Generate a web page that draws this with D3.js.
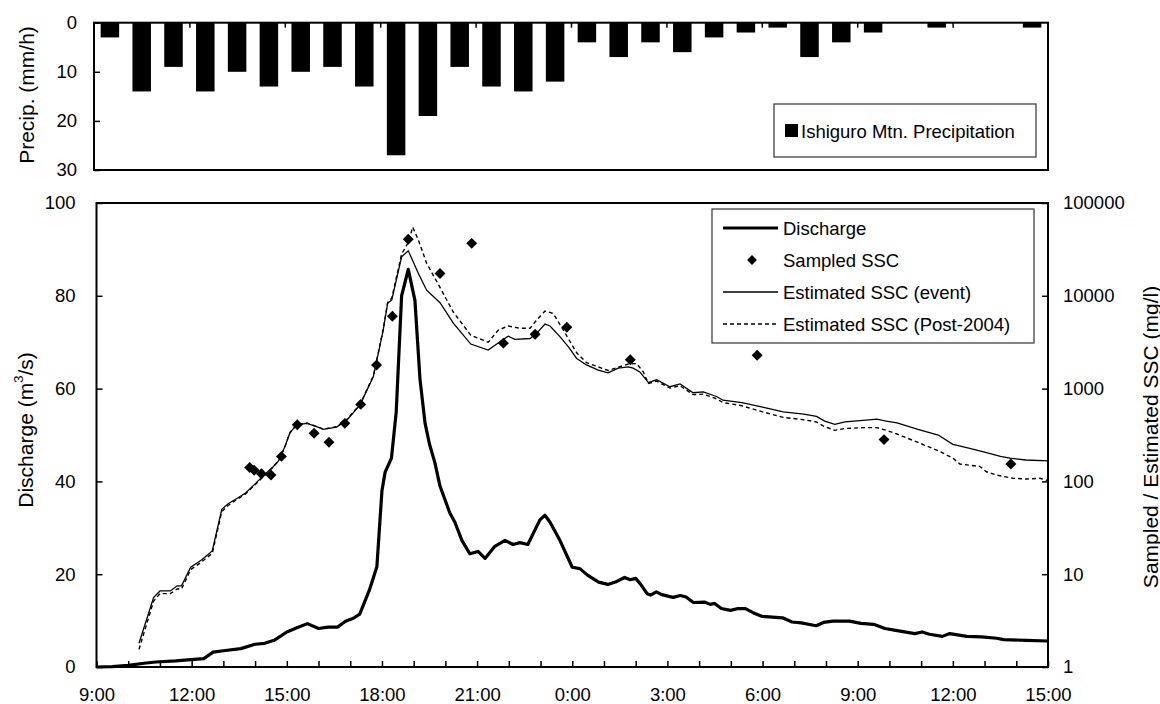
<!DOCTYPE html>
<html>
<head>
<meta charset="utf-8">
<script src="https://cdn.jsdelivr.net/npm/d3@7"></script>
<style>
  body { margin: 0; background: #fff; }
  svg text { font-family: "Liberation Sans", Arial, sans-serif; fill: #000; }
</style>
</head>
<body>
<div id="chart"></div>
<script>
// hours after 9:00 on day 1
const hourLabels = ["9:00", "12:00", "15:00", "18:00", "21:00", "0:00", "3:00", "6:00", "9:00", "12:00", "15:00"];

// hourly precipitation (mm/h), one bar per hour from 9:00
const precip = [3, 14, 9, 14, 10, 13, 10, 9, 13, 27, 19, 9, 13, 14, 12, 4, 7, 4, 6, 3, 2, 1, 7, 4, 2, 0, 1, 0, 0, 1];

// [hours after 9:00, m3/s]
const discharge = [[0,0],[0.5,0.1],[1,0.36],[1.5,0.8],[1.87,1.08],[2.5,1.3],[2.98,1.6],[3.38,1.8],[3.68,3.2],[4.0,3.5],[4.55,3.96],[5.0,4.9],[5.3,5.1],[5.6,5.75],[6.0,7.55],[6.3,8.4],[6.65,9.35],[7.0,8.3],[7.3,8.6],[7.6,8.6],[7.85,9.85],[8.1,10.5],[8.3,11.4],[8.6,16.5],[8.84,21.6],[9.0,38],[9.1,42],[9.3,45],[9.45,55],[9.62,80],[9.83,85.7],[10.04,79],[10.2,62],[10.36,52.5],[10.5,48],[10.67,44],[10.83,39],[11.14,33.2],[11.3,31.2],[11.52,27.3],[11.77,24.4],[12.03,24.9],[12.25,23.4],[12.56,26],[12.88,27.3],[13.13,26.4],[13.35,26.8],[13.6,26.4],[13.98,31.7],[14.14,32.7],[14.3,31.2],[14.61,27.3],[15.0,21.5],[15.24,21.2],[15.48,19.8],[15.83,18.3],[16.12,17.8],[16.36,18.3],[16.65,19.3],[16.83,18.8],[17.0,19.1],[17.18,17.6],[17.36,15.8],[17.47,15.5],[17.65,16.2],[17.82,15.6],[18.18,15.0],[18.41,15.4],[18.59,15.1],[18.82,13.9],[19.17,14.0],[19.35,13.5],[19.49,13.7],[19.7,12.6],[19.99,12.2],[20.23,12.6],[20.46,12.6],[20.7,11.7],[20.99,10.9],[21.63,10.6],[21.93,9.7],[22.22,9.5],[22.69,8.9],[22.92,9.6],[23.22,9.9],[23.74,9.9],[24.1,9.4],[24.5,9.2],[24.86,8.3],[25.2,7.9],[25.8,7.2],[26.03,7.55],[26.26,7.05],[26.67,6.6],[26.9,7.2],[27.44,6.6],[27.9,6.5],[28.38,6.2],[28.6,5.9],[29.3,5.75],[30,5.6]];

// [hours after 9:00, mg/l]
const sscEvent = [[1.34,1.8],[1.8,5.6],[2.0,6.6],[2.33,6.6],[2.54,7.5],[2.68,7.5],[2.97,11.9],[3.32,14.3],[3.65,17.8],[3.95,50],[4.15,57.5],[4.4,64.6],[4.7,75],[5.0,94],[5.3,119],[5.55,141],[5.75,168],[5.94,237],[6.1,335],[6.31,407],[6.63,422],[6.94,389],[7.15,363],[7.57,385],[7.89,457],[8.31,668],[8.73,1349],[9.04,4266],[9.18,8318],[9.31,9016],[9.62,26303],[9.83,30549],[10.15,17378],[10.41,11482],[10.83,8414],[11.25,5070],[11.8,3020],[12.35,2600],[12.72,3199],[12.98,3673],[13.19,3388],[13.67,3467],[13.88,3936],[14.14,4955],[14.3,4732],[14.61,3631],[14.88,2818],[15.14,2113],[15.45,1799],[15.82,1585],[16.13,1479],[16.45,1660],[16.77,1718],[16.92,1660],[17.13,1514],[17.4,1161],[17.66,1245],[18.08,1047],[18.4,1122],[18.81,902],[19.13,923],[19.55,822],[19.75,750],[20.35,708],[21.0,631],[21.65,562],[22.3,531],[22.7,501],[22.96,447],[23.28,412],[23.6,437],[24.26,457],[24.6,468],[24.9,447],[25.24,427],[25.9,363],[26.54,316],[27.0,251],[27.5,229],[28.0,207],[28.5,186],[28.8,178],[29.3,170],[30,166]];

const sscPost2004 = [[1.34,1.55],[1.8,5.13],[2.0,6.17],[2.33,6.17],[2.54,6.92],[2.68,6.92],[2.97,11.2],[3.32,13.6],[3.65,16.8],[3.95,47.3],[4.15,55],[4.4,63.1],[4.7,73.3],[5.0,92.3],[5.3,116],[5.55,141],[5.75,168],[5.94,237],[6.1,335],[6.31,407],[6.63,427],[6.94,389],[7.15,367],[7.57,389],[7.89,462],[8.31,676],[8.73,1380],[9.04,4365],[9.18,8511],[9.31,9441],[9.62,28184],[9.83,37584],[9.97,54954],[10.15,39811],[10.41,22387],[10.83,12303],[11.25,6683],[11.8,3758],[12.35,3162],[12.67,4266],[12.98,4732],[13.35,4467],[13.67,4467],[13.88,5495],[14.14,6839],[14.4,6457],[14.72,4266],[15.14,2427],[15.45,1905],[16.13,1567],[16.77,1841],[17.03,1862],[17.24,1514],[17.4,1135],[17.66,1202],[18.08,1012],[18.4,1072],[18.81,861],[19.13,871],[19.55,776],[19.75,708],[20.35,653],[21.0,562],[21.65,490],[22.3,462],[22.7,437],[22.96,389],[23.28,355],[23.6,372],[24.26,380],[24.6,380],[24.9,355],[25.24,324],[25.9,263],[26.54,214],[27.0,178],[27.22,154],[27.85,145],[28.06,127],[28.38,117],[28.9,108],[29.33,106],[29.74,108],[30,102]];

const sscSampled = [[4.83,141],[4.97,132],[5.2,121],[5.5,117],[5.83,186],[6.33,407],[6.86,331],[7.33,264],[7.83,422],[8.33,676],[8.83,1799],[9.33,6026],[9.83,40738],[10.83,17378],[11.83,36728],[12.83,3090],[13.83,3846],[14.83,4571],[16.83,2042],[20.83,2291],[24.83,282],[28.83,154]];

const width = 1160;
const height = 704;
const svg = d3.select("#chart")
  .append("svg")
  .attr("width", width)
  .attr("height", height);

// ---------- top panel: precipitation ----------
const xTop = d3.scaleLinear().domain([0, 30]).range([94, 1048]);
const yTop = d3.scaleLinear().domain([0, 30]).range([22.7, 170]);

svg.append("g")
  .selectAll("rect")
  .data(precip)
  .enter().append("rect")
  .attr("x", (d, i) => xTop(i + 0.5) - 9.25)
  .attr("y", yTop(0))
  .attr("width", 18.5)
  .attr("height", d => yTop(d) - yTop(0))
  .attr("fill", "#000");

svg.append("rect")
  .attr("x", xTop(0)).attr("y", yTop(0))
  .attr("width", xTop(30) - xTop(0)).attr("height", yTop(30) - yTop(0))
  .attr("fill", "none").attr("stroke", "#000").attr("stroke-width", 2);

svg.append("g")
  .attr("transform", `translate(${xTop(0)},0)`)
  .call(d3.axisLeft(yTop).tickValues([0, 10, 20, 30]).tickSizeInner(-6).tickSizeOuter(0).tickPadding(17))
  .call(g => g.select(".domain").remove())
  .call(g => g.selectAll("line").attr("stroke-width", 1.5))
  .call(g => g.selectAll("text").style("font-size", "18.5px").attr("font-family", null));

svg.append("g")
  .attr("transform", `translate(0,${yTop(0)})`)
  .call(d3.axisTop(xTop).tickValues(d3.range(3, 30, 3)).tickSizeInner(-5).tickSizeOuter(0).tickFormat(""))
  .call(g => g.select(".domain").remove())
  .call(g => g.selectAll("line").attr("stroke-width", 1.5));

svg.append("text")
  .attr("transform", "translate(26,95) rotate(-90)")
  .attr("text-anchor", "middle")
  .attr("dominant-baseline", "central")
  .style("font-size", "21px")
  .text("Precip. (mm/h)");

// legend for precipitation
const legTop = svg.append("g");
legTop.append("rect")
  .attr("x", 774).attr("y", 104).attr("width", 262).attr("height", 53)
  .attr("fill", "#fff").attr("stroke", "#333").attr("stroke-width", 1.2);
legTop.append("rect")
  .attr("x", 785).attr("y", 124).attr("width", 13).attr("height", 13).attr("fill", "#000");
legTop.append("text")
  .attr("x", 801).attr("y", 131)
  .attr("dominant-baseline", "central")
  .style("font-size", "18.5px")
  .text("Ishiguro Mtn. Precipitation");

// ---------- bottom panel: discharge and SSC ----------
const x = d3.scaleLinear().domain([0, 30]).range([96.5, 1048]);
const yQ = d3.scaleLinear().domain([0, 100]).range([667, 203]);
const yS = d3.scaleLog().domain([1, 100000]).range([667, 203]);

// hourly ticks pointing up
svg.append("g")
  .attr("transform", `translate(0,${yQ(0)})`)
  .call(d3.axisBottom(x).tickValues(d3.range(0, 31, 1)).tickSizeInner(-6).tickSizeOuter(0).tickFormat(""))
  .call(g => g.select(".domain").remove())
  .call(g => g.selectAll("line").attr("stroke-width", 1.5));

// time labels
svg.append("g")
  .attr("transform", `translate(0,${yQ(0)})`)
  .call(d3.axisBottom(x).tickValues(d3.range(0, 31, 3)).tickSize(0).tickPadding(21)
    .tickFormat((d, i) => hourLabels[i]))
  .call(g => g.select(".domain").remove())
  .call(g => g.selectAll("text").style("font-size", "18.5px").attr("font-family", null));

svg.append("g")
  .attr("transform", `translate(${x(0)},0)`)
  .call(d3.axisLeft(yQ).tickValues([0, 20, 40, 60, 80, 100]).tickSizeInner(-6).tickSizeOuter(0).tickPadding(21))
  .call(g => g.select(".domain").remove())
  .call(g => g.selectAll("line").attr("stroke-width", 1.5))
  .call(g => g.selectAll("text").style("font-size", "18.5px").attr("font-family", null));

svg.append("g")
  .attr("transform", `translate(${x(30)},0)`)
  .call(d3.axisRight(yS).tickValues([1, 10, 100, 1000, 10000, 100000]).tickSizeInner(-6).tickSizeOuter(0)
    .tickPadding(15).tickFormat(d3.format("d")))
  .call(g => g.select(".domain").remove())
  .call(g => g.selectAll("line").attr("stroke-width", 1.5))
  .call(g => g.selectAll("text").style("font-size", "18.5px").attr("font-family", null));

// axis titles
const qTitle = svg.append("text")
  .attr("transform", "translate(25,430) rotate(-90)")
  .attr("text-anchor", "middle")
  .attr("dominant-baseline", "central")
  .style("font-size", "21px");
qTitle.append("tspan").text("Discharge (m");
qTitle.append("tspan").attr("dy", -7).style("font-size", "13px").text("3");
qTitle.append("tspan").attr("dy", 7).text("/s)");

svg.append("text")
  .attr("transform", "translate(1150,437) rotate(-90)")
  .attr("text-anchor", "middle")
  .attr("dominant-baseline", "central")
  .style("font-size", "21px")
  .text("Sampled / Estimated SSC (mg/l)");

// lines
const lineQ = d3.line().x(d => x(d[0])).y(d => yQ(d[1]));
const lineS = d3.line().x(d => x(d[0])).y(d => yS(d[1]));

svg.append("path")
  .datum(sscPost2004)
  .attr("d", lineS)
  .attr("fill", "none")
  .attr("stroke", "#000")
  .attr("stroke-width", 1.4)
  .attr("stroke-dasharray", "4,3");

svg.append("path")
  .datum(sscEvent)
  .attr("d", lineS)
  .attr("fill", "none")
  .attr("stroke", "#000")
  .attr("stroke-width", 1.3);

svg.append("path")
  .datum(discharge)
  .attr("d", lineQ)
  .attr("fill", "none")
  .attr("stroke", "#000")
  .attr("stroke-width", 3.2)
  .attr("stroke-linejoin", "round");

const diamond = d3.symbol().type(d3.symbolSquare).size(60);
svg.append("g")
  .selectAll("path")
  .data(sscSampled)
  .enter().append("path")
  .attr("d", diamond)
  .attr("transform", d => `translate(${x(d[0])},${yS(d[1])}) rotate(45)`)
  .attr("fill", "#000");

// frame
svg.append("rect")
  .attr("x", x(0)).attr("y", yQ(100))
  .attr("width", x(30) - x(0)).attr("height", yQ(0) - yQ(100))
  .attr("fill", "none").attr("stroke", "#000").attr("stroke-width", 2);

// legend
const legend = svg.append("g");
legend.append("rect")
  .attr("x", 712).attr("y", 209).attr("width", 322).attr("height", 134)
  .attr("fill", "#fff").attr("stroke", "#333").attr("stroke-width", 1.2);

const legendItems = [
  { label: "Discharge", y: 228, type: "thick" },
  { label: "Sampled SSC", y: 260, type: "point" },
  { label: "Estimated SSC (event)", y: 292, type: "thin" },
  { label: "Estimated SSC (Post-2004)", y: 324, type: "dash" }
];
legendItems.forEach(item => {
  if (item.type === "point") {
    legend.append("path")
      .attr("d", d3.symbol().type(d3.symbolSquare).size(48))
      .attr("transform", `translate(752,${item.y}) rotate(45)`)
      .attr("fill", "#000");
  } else {
    legend.append("line")
      .attr("x1", 723).attr("x2", 778)
      .attr("y1", item.y).attr("y2", item.y)
      .attr("stroke", "#000")
      .attr("stroke-width", item.type === "thick" ? 3.2 : 1.3)
      .attr("stroke-dasharray", item.type === "dash" ? "4,3" : null);
  }
  legend.append("text")
    .attr("x", 783).attr("y", item.y)
    .attr("dominant-baseline", "central")
    .style("font-size", "18.5px")
    .text(item.label);
});
</script>
</body>
</html>
